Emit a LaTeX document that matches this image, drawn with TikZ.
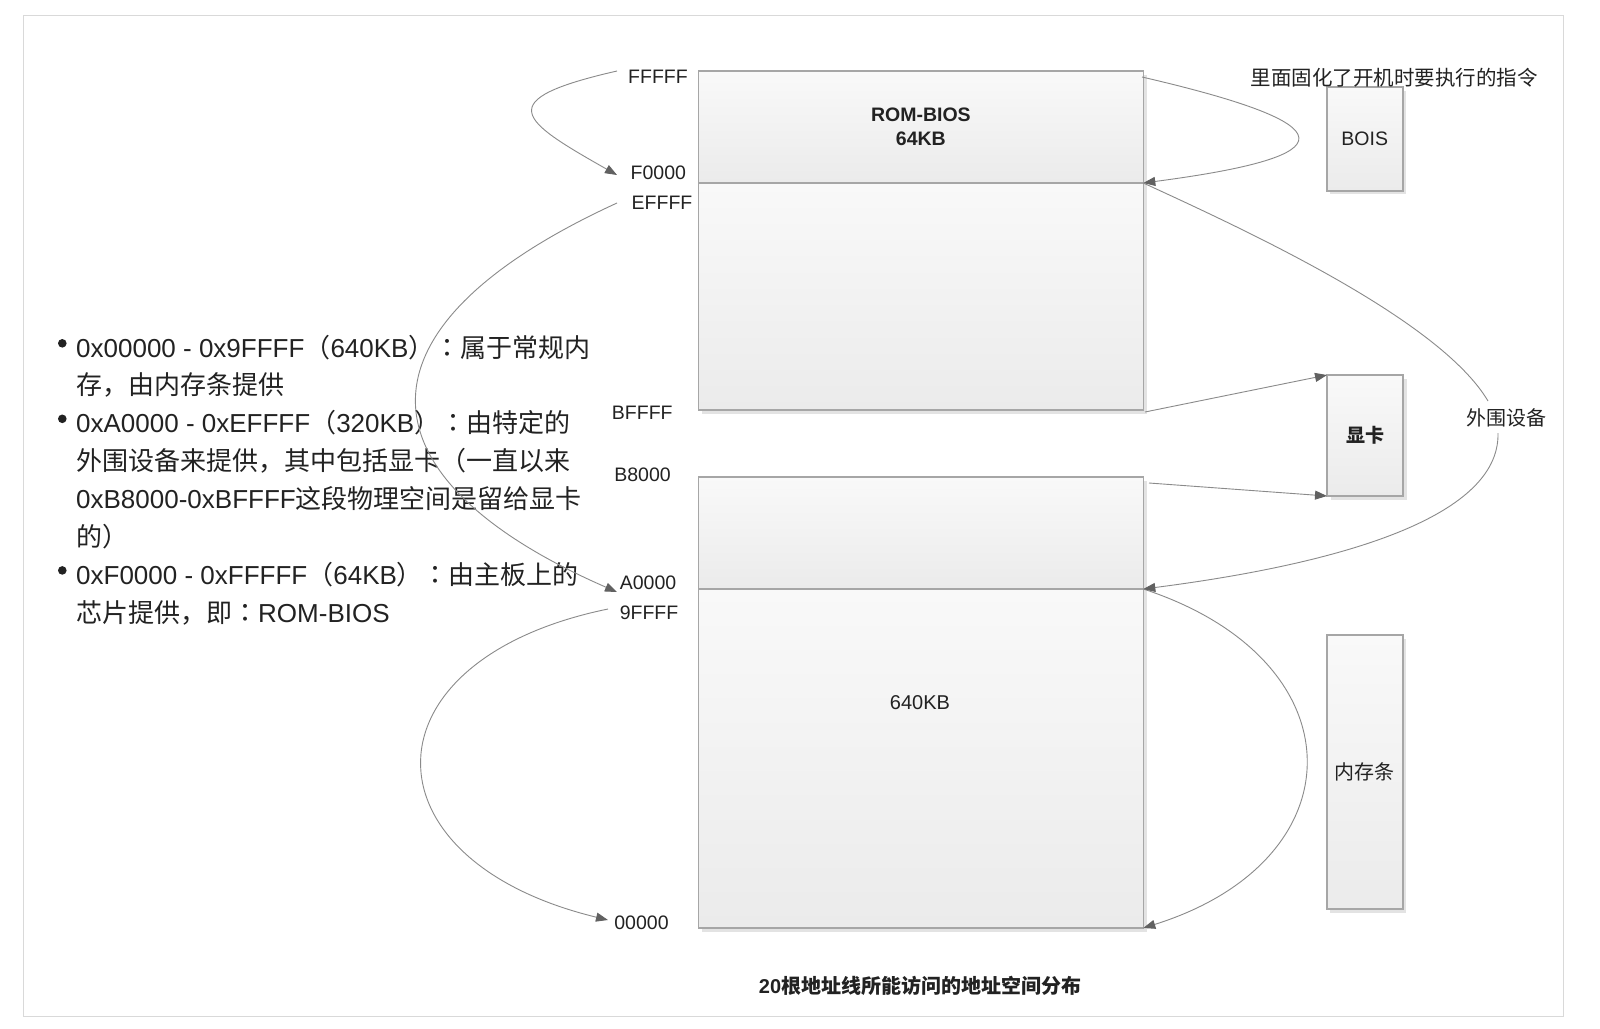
\documentclass[tikz,border=0pt]{standalone}
\usepackage{fontspec}
\setmainfont{Liberation Sans}
\newfontfamily\cjk{Noto Sans CJK SC}
\newfontfamily\cjktc{Noto Sans CJK TC}
\usetikzlibrary{arrows.meta,shadows}
\newcommand\zh[1]{{\cjk #1}}
\newcommand\zhcolon{{\cjktc ：}}
\newcommand\fs[2]{\fontsize{#1}{#2}\selectfont}
\definecolor{ink}{HTML}{222222}
\definecolor{edge}{HTML}{A6A6A6}
\definecolor{wire}{HTML}{8A8A8A}
\definecolor{tipc}{HTML}{616161}
\definecolor{shadegray}{HTML}{E3E3E3}
\definecolor{framegray}{HTML}{D9D9D9}
\definecolor{boxtop}{HTML}{F9F9F9}
\definecolor{boxbot}{HTML}{EBEBEB}
\begin{document}
\begin{tikzpicture}[x=1pt,y=1pt,
  membox/.style={draw=edge, line width=1.6pt, top color=boxtop, bottom color=boxbot,
    inner sep=0, outer sep=0, anchor=north west, text=ink,
    drop shadow={shadow xshift=3.5pt, shadow yshift=-3.5pt, fill=shadegray, opacity=1}},
  addr/.style={text=ink, font=\fs{19.5}{22}, inner sep=0},
  note/.style={text=ink, font=\fs{20}{24}, inner sep=0},
  bul/.style={text=ink, font=\fs{26}{30}, inner sep=0, anchor=base west},
  conn/.style={draw=wire, line width=0.9pt, -{Triangle[length=12pt,width=9pt,color=tipc]}},
  plain/.style={draw=wire, line width=0.9pt}
]
\useasboundingbox (0,0) rectangle (1600,-1028);
\fill[white] (0,0) rectangle (1600,-1028);
\draw[framegray, line width=1pt] (23,-15) rectangle (1563,-1016);

% memory boxes
\node[membox, minimum width=444.8pt, minimum height=112pt, font=\bfseries\fs{19.5}{24}, align=center] (rom) at (698.5,-71) {ROM-BIOS\\64KB};
\node[membox, minimum width=444.8pt, minimum height=227pt] (ext) at (698.5,-183) {};
\node[membox, minimum width=444.8pt, minimum height=112pt] (vga) at (698.5,-477) {};
\node[membox, minimum width=444.8pt, minimum height=339pt] (ram) at (698.5,-589) {};
\node[note] (ramtxt) at (920,-703) {640KB};

% devices
\node[membox, minimum width=76pt, minimum height=103.7pt, font=\fs{19.5}{22}] (bois) at (1326.7,-87) {BOIS};
\node[membox, minimum width=76pt, minimum height=121pt, font=\fs{19}{22}] (card) at (1327,-375) {\zh{\bfseries 显卡}};
\node[membox, minimum width=76pt, minimum height=274pt, font=\fs{20}{22}] (stick) at (1326.7,-635) {\zh{内存条}};

% address labels
\node[addr] (lf) at (658,-76.7) {FFFFF};
\node[addr] (lf0) at (658.3,-172.7) {F0000};
\node[addr] (le) at (662,-203) {EFFFF};
\node[addr] (lb) at (642.3,-413) {BFFFF};
\node[addr] (lb8) at (642.5,-475) {B8000};
\node[addr] (la) at (648,-583) {A0000};
\node[addr] (l9) at (649,-612.5) {9FFFF};
\node[addr] (l0) at (641.5,-923) {00000};

% notes
\node[text=ink, font=\fs{20.5}{24}, inner sep=0] (top) at (1394,-77.5) {\zh{里面固化了开机时要执行的指令}};
\node[note] (periph) at (1506.5,-418) {\zh{外围设备}};
\node[text=ink, font=\bfseries\fs{20}{24}, inner sep=0] (cap) at (920,-986) {20\zh{根地址线所能访问的地址空间分布}};

% bullet list
\fill[ink] (62.3,-343.3) circle (4.3);
\fill[ink] (62.3,-418.8) circle (4.3);
\fill[ink] (62.3,-570.4) circle (4.3);
\node[bul] (bl1) at (76,-357) {0x00000 - 0x9FFFF\zh{（}640KB\zh{）}\zhcolon\zh{属于常规内}};
\node[bul] (bl2) at (76,-394.9) {\zh{存，由内存条提供}};
\node[bul] (bl3) at (76,-432.8) {0xA0000 - 0xEFFFF\zh{（}320KB\zh{）}\zhcolon\zh{由特定的}};
\node[bul] (bl4) at (76,-470.7) {\zh{外围设备来提供，其中包括显卡（一直以来}};
\node[bul] (bl5) at (76,-508.6) {0xB8000-0xBFFFF\zh{这段物理空间是留给显卡}};
\node[bul] (bl6) at (76,-546.5) {\zh{的）}};
\node[bul] (bl7) at (76,-584.4) {0xF0000 - 0xFFFFF\zh{（}64KB\zh{）}\zhcolon\zh{由主板上的}};
\node[bul] (bl8) at (76,-622.3) {\zh{芯片提供，即}\zhcolon ROM-BIOS};

% connector end points
\coordinate (fs) at (617,-71);
\coordinate (fe) at (617,-175);
\coordinate (es) at (617,-203);
\coordinate (ee) at (617,-592);
\coordinate (ns) at (608,-609);
\coordinate (ne) at (608,-920);
\coordinate (bs) at (1142,-77);
\coordinate (pa) at (1488,-401);
\coordinate (pb) at (1498,-433);
\coordinate (cs1) at (1145,-412);
\coordinate (cs2) at (1149,-483);

% connectors
\draw[conn] (fs) .. controls (490,-100) and (520,-120) .. (fe);
\draw[conn] (es) .. controls (340,-330) and (360,-480) .. (ee);
\draw[conn] (ns) .. controls (360,-660) and (360,-860) .. (ne);
\draw[conn] (vga.south east) .. controls (1360,-660) and (1360,-860) .. (ram.south east);
\draw[conn] (bs) .. controls (1349,-125) and (1349,-156) .. (rom.south east);
\draw[plain] (rom.south east) .. controls (1250,-232) and (1440,-320) .. (pa);
\draw[conn] (pb) .. controls (1500,-520) and (1330,-565) .. (vga.south east);
\draw[conn] (cs1) -- (card.north west);
\draw[conn] (cs2) -- (card.south west);
\end{tikzpicture}
\end{document}
